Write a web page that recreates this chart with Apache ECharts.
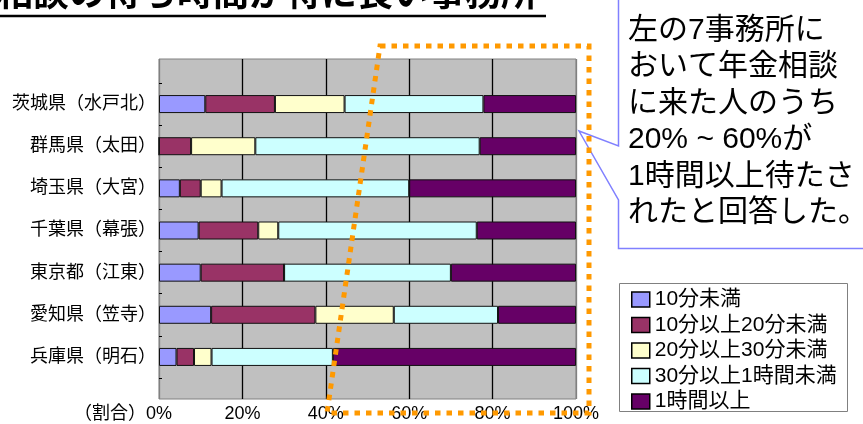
<!DOCTYPE html>
<html>
<head>
<meta charset="utf-8">
<script src="https://cdn.jsdelivr.net/npm/echarts@6/dist/echarts.min.js"></script>
<style>
  html, body { margin: 0; padding: 0; background: #fff; }
  #chart { width: 863px; height: 424px; }
</style>
</head>
<body>
<div id="chart"></div>
<script>
// Offices (top to bottom) and the share of visitors per waiting-time band (%)
const categories = ['茨城県（水戸北）', '群馬県（太田）', '埼玉県（大宮）', '千葉県（幕張）', '東京都（江東）', '愛知県（笠寺）', '兵庫県（明石）'];
const seriesNames = ['10分未満', '10分以上20分未満', '20分以上30分未満', '30分以上1時間未満', '1時間以上'];
const under10    = [11.1, 0,    5.0,  9.5,  10.0, 12.5, 4.2];
const from10to20 = [16.7, 7.7,  5.0,  14.3, 20.0, 25.0, 4.2];
const from20to30 = [16.7, 15.4, 5.0,  4.8,  0,    18.8, 4.2];
const from30to60 = [33.3, 53.8, 45.0, 47.6, 40.0, 25.0, 29.1];
const over60     = [22.2, 23.1, 40.0, 23.8, 30.0, 18.7, 58.3];
const seriesValues = [under10, from10to20, from20to30, from30to60, over60];
const colors = ['#9999ff', '#993366', '#ffffcc', '#ccffff', '#660066'];
const axisPrefix = '（割合）';
const titleText = '相談の待ち時間が特に長い事務所';
const noteLines = ['左の7事務所に', 'おいて年金相談', 'に来た人のうち', '20% ~ 60%が', '1時間以上待たさ', 'れたと回答した。'];

const FONT = '"Liberation Sans", "Noto Sans CJK JP", sans-serif';
const chart = echarts.init(document.getElementById('chart'), null, { renderer: 'canvas' });

const option = {
  animation: false,
  textStyle: { fontFamily: FONT },
  grid: [
    // gray plot background with the percentage gridlines
    { left: 159, top: 59, width: 417, height: 340, show: true,
      backgroundColor: '#c0c0c0', borderColor: '#808080', borderWidth: 1 },
    // bar rows
    { left: 159, top: 83, width: 417, height: 295 }
  ],
  xAxis: [
    { gridIndex: 0, type: 'value', min: 0, max: 100, interval: 20,
      axisLine: { show: false }, axisTick: { show: false },
      axisLabel: { formatter: '{value}%', fontSize: 18, color: '#000', margin: 6, fontFamily: FONT },
      splitLine: { show: true, lineStyle: { width: 1.3,
        color: ['#808080', '#000', '#000', '#000', '#000', '#808080'] } } },
    { gridIndex: 1, type: 'value', min: 0, max: 100, show: false }
  ],
  yAxis: [
    { gridIndex: 0, type: 'value', show: false },
    { gridIndex: 1, type: 'category', data: categories, inverse: true,
      axisLine: { show: false },
      axisTick: { show: true, inside: true, length: 3, lineStyle: { color: '#000' } },
      axisLabel: { fontSize: 18, color: '#000', margin: 3, fontFamily: FONT },
      splitLine: { show: false } }
  ],
  legend: {
    orient: 'vertical', left: 631, top: 289, padding: 0,
    itemWidth: 18, itemHeight: 15, itemGap: 4.5, icon: 'rect',
    itemStyle: { borderColor: '#000', borderWidth: 1.5 },
    textStyle: { fontSize: 21, lineHeight: 20, color: '#000', fontFamily: FONT },
    data: seriesNames
  },
  series: seriesNames.map((name, i) => ({
    name: name, type: 'bar', stack: 'share',
    xAxisIndex: 1, yAxisIndex: 1, barWidth: 18,
    itemStyle: { color: colors[i], borderColor: '#111', borderWidth: 1 },
    data: seriesValues[i]
  })),
  graphic: [
    // heading with underline
    { type: 'text', left: -3, top: -22, z: 50,
      style: { text: titleText, font: 'bold 36px ' + FONT, fill: '#000' } },
    { type: 'line', z: 50, shape: { x1: 0, y1: 16, x2: 546, y2: 16 },
      style: { stroke: '#000', lineWidth: 2.5 } },
    // prefix of the value axis
    { type: 'text', z: 50, x: 146, y: 414,
      style: { text: axisPrefix, font: '18px ' + FONT, fill: '#000',
        textAlign: 'right', textVerticalAlign: 'middle' } },
    // legend frame
    { type: 'rect', z: 1, shape: { x: 619.5, y: 283.5, width: 228, height: 128 },
      style: { fill: '#fff', stroke: '#808080', lineWidth: 1 } },
    // speech-bubble note
    { type: 'polygon', z: 40,
      shape: { points: [[618.5, -5], [618.5, 146], [579, 131], [618.5, 200], [618.5, 248.5], [870, 248.5], [870, -5]] },
      style: { fill: '#fff', stroke: '#8080ff', lineWidth: 1.5 } },
    { type: 'text', z: 41, x: 628, y: 12,
      style: { text: noteLines.join('\n'), font: '30px ' + FONT, lineHeight: 36.5,
        fill: '#000', textVerticalAlign: 'top' } },
    // orange dotted highlight around the long waits
    { type: 'polygon', z: 60,
      shape: { points: [[380, 46], [589, 46], [589, 413], [327, 413]] },
      style: { fill: 'none', stroke: '#ff9900', lineWidth: 5, lineDash: [5.5, 6] } }
  ]
};
chart.setOption(option);
</script>
</body>
</html>
